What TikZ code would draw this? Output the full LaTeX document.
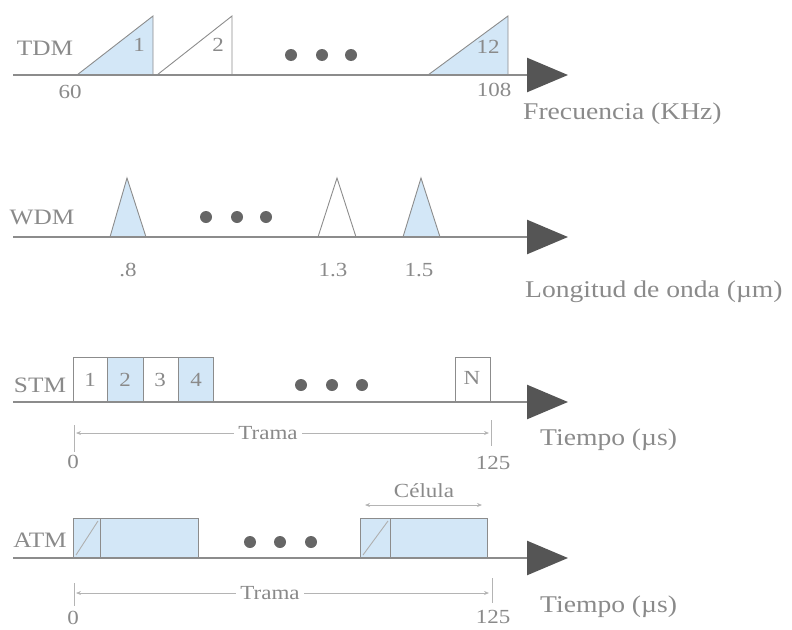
\documentclass[tikz,border=0pt]{standalone}
\usepackage{fontspec}
\setmainfont[FakeStretch=1.15]{Liberation Serif}
\usetikzlibrary{arrows.meta}
\definecolor{txtc}{HTML}{8A8A8A}
\definecolor{axc}{HTML}{8C8C8C}
\definecolor{fillc}{HTML}{D3E7F7}
\definecolor{dotc}{HTML}{666666}
\definecolor{arrc}{HTML}{555555}
\definecolor{dimc}{HTML}{B4B4B4}
\tikzset{
  lbl/.style={text=txtc, font=\fontsize{22}{24}\selectfont, inner sep=0pt},
  rlbl/.style={text=txtc, font=\fontsize{24}{26}\selectfont, inner sep=0pt, anchor=west},
  slbl/.style={text=txtc, font=\fontsize{20}{22}\selectfont, inner sep=0pt},
  axis/.style={draw=axc, line width=2.5pt, -{Triangle[length=41pt,width=34pt,color=arrc]}},
  shp/.style={draw=axc, line width=0.9pt},
  shpf/.style={shp, fill=fillc},
  dotn/.style={circle, fill=dotc, inner sep=0pt, minimum size=12pt},
  dimline/.style={draw=dimc, line width=0.8pt, {Stealth[length=5pt,width=4pt]}-{Stealth[length=5pt,width=4pt]}},
  tick/.style={draw=dimc, line width=0.8pt}
}
\begin{document}
\begin{tikzpicture}[x=1pt,y=-1pt]
\useasboundingbox (0,0) rectangle (792,629);
% ---------- TDM ----------
\coordinate (tdmS) at (13,75);
\coordinate (tdmE) at (568,75);
\filldraw[shpf] (77,75) -- (153,16) -- (153,75) -- cycle;
\draw[shp] (157,75) -- (232,16) -- (232,75);
\filldraw[shpf] (428,75) -- (508,16) -- (508,75) -- cycle;
\draw[axis] (tdmS) -- (tdmE);
\node[lbl] (tdm) at (45,48) {TDM};
\node[slbl] (t1) at (139,45) {1};
\node[slbl] (t2) at (218,45) {2};
\node[slbl] (t12) at (488,47) {12};
\node[dotn] (td1) at (291,55) {};
\node[dotn] (td2) at (322,55) {};
\node[dotn] (td3) at (351,55) {};
\node[slbl] (t60) at (70,92) {60};
\node[slbl] (t108) at (494,90) {108};
\node[rlbl] (tfreq) at (523,114) {Frecuencia (KHz)};
% ---------- WDM ----------
\coordinate (wdmS) at (13,237);
\coordinate (wdmE) at (568,237);
\filldraw[shpf] (110,237) -- (127,178) -- (146,237) -- cycle;
\draw[shp] (318,237) -- (337,178) -- (356,237);
\filldraw[shpf] (403,237) -- (421,178) -- (440,237) -- cycle;
\draw[axis] (wdmS) -- (wdmE);
\node[lbl] (wdm) at (42,217) {WDM};
\node[dotn] (wd1) at (206,217) {};
\node[dotn] (wd2) at (237,217) {};
\node[dotn] (wd3) at (266,217) {};
\node[slbl] (w8) at (128,270) {.8};
\node[slbl] (w13) at (333,270) {1.3};
\node[slbl] (w15) at (419,270) {1.5};
\node[rlbl] (wlong) at (525,292) {Longitud de onda (µm)};
% ---------- STM ----------
\coordinate (stmS) at (13,402);
\coordinate (stmE) at (568,402);
\draw[shp] (73,357) rectangle (107,402);
\filldraw[shpf] (107,357) rectangle (143,402);
\draw[shp] (143,357) rectangle (178,402);
\filldraw[shpf] (178,357) rectangle (213,402);
\draw[shp] (455,357) rectangle (490,402);
\draw[axis] (stmS) -- (stmE);
\node[lbl] (stm) at (40,385) {STM};
\node[slbl] (s1) at (90,380) {1};
\node[slbl] (s2) at (125,380) {2};
\node[slbl] (s3) at (160,380) {3};
\node[slbl] (s4) at (196,380) {4};
\node[slbl] (sN) at (472,378) {N};
\node[dotn] (sd1) at (301,385) {};
\node[dotn] (sd2) at (332,385) {};
\node[dotn] (sd3) at (362,385) {};
\coordinate (sdA) at (76,433);
\coordinate (sdB) at (489,433);
\draw[dimline] (sdA) -- (sdB);
\node[slbl, fill=white, inner xsep=4pt] (strama) at (268,433) {Trama};
\coordinate (stk1a) at (74,425); \coordinate (stk1b) at (74,452);
\coordinate (stk2a) at (491,420); \coordinate (stk2b) at (491,446);
\draw[tick] (stk1a) -- (stk1b);
\draw[tick] (stk2a) -- (stk2b);
\node[slbl] (s0) at (73,462) {0};
\node[slbl] (s125) at (493,463) {125};
\node[rlbl] (stiempo) at (540,440) {Tiempo (µs)};
% ---------- ATM ----------
\coordinate (atmS) at (13,558);
\coordinate (atmE) at (568,558);
\filldraw[shpf] (73,518) rectangle (198,558);
\draw[shp] (100,518) -- (100,558);
\draw[shp, draw=axc!70] (76,555) -- (98,521);
\filldraw[shpf] (360,518) rectangle (487,558);
\draw[shp] (390,518) -- (390,558);
\draw[shp, draw=axc!70] (363,555) -- (388,521);
\draw[axis] (atmS) -- (atmE);
\node[lbl] (atm) at (40,540) {ATM};
\node[dotn] (ad1) at (250,542) {};
\node[dotn] (ad2) at (280,542) {};
\node[dotn] (ad3) at (311,542) {};
\coordinate (cdA) at (365,505);
\coordinate (cdB) at (482,505);
\draw[dimline] (cdA) -- (cdB);
\node[slbl, fill=white, inner xsep=4pt] (celula) at (424,491) {Célula};
\coordinate (adA) at (76,593);
\coordinate (adB) at (489,593);
\draw[dimline] (adA) -- (adB);
\node[slbl, fill=white, inner xsep=4pt] (atrama) at (270,593) {Trama};
\coordinate (atk1a) at (74,583); \coordinate (atk1b) at (74,606);
\coordinate (atk2a) at (492,578); \coordinate (atk2b) at (492,603);
\draw[tick] (atk1a) -- (atk1b);
\draw[tick] (atk2a) -- (atk2b);
\node[slbl] (a0) at (73,618) {0};
\node[slbl] (a125) at (493,617) {125};
\node[rlbl] (atiempo) at (540,607) {Tiempo (µs)};
\end{tikzpicture}
\end{document}
